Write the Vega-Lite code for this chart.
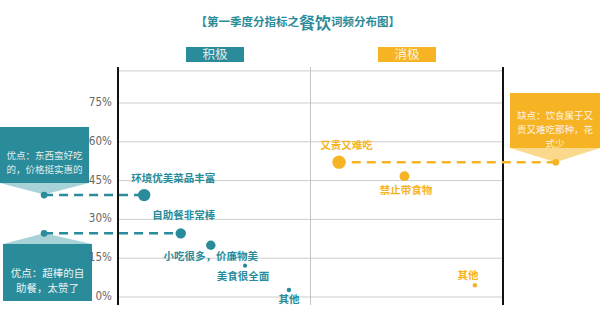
{
  "$schema": "https://vega.github.io/schema/vega-lite/v6.json",
  "width": 600,
  "height": 322,
  "autosize": {"type": "fit", "contains": "padding"},
  "padding": 0,
  "background": "white",
  "config": {
    "view": {"stroke": null},
    "text": {"font": "Noto Sans CJK SC"}
  },
  "datasets": {
    "words": [
      {"name": "环境优美菜品丰富", "sentiment": "积极", "pos": 6.8, "share": 39.4, "freq": 77},
      {"name": "自助餐非常棒", "sentiment": "积极", "pos": 16.3, "share": 24.6, "freq": 54},
      {"name": "小吃很多，价廉物美", "sentiment": "积极", "pos": 24.1, "share": 20.0, "freq": 45},
      {"name": "美食很全面", "sentiment": "积极", "pos": 33.0, "share": 12.1, "freq": 9},
      {"name": "其他", "sentiment": "积极", "pos": 44.4, "share": 2.7, "freq": 10},
      {"name": "又贵又难吃", "sentiment": "消极", "pos": 57.4, "share": 52.1, "freq": 88},
      {"name": "禁止带食物", "sentiment": "消极", "pos": 74.4, "share": 46.7, "freq": 48},
      {"name": "其他", "sentiment": "消极", "pos": 92.7, "share": 4.5, "freq": 10}
    ],
    "ticks": [
      {"v": 0, "label": "0%"},
      {"v": 15, "label": "15%"},
      {"v": 30, "label": "30%"},
      {"v": 45, "label": "45%"},
      {"v": 60, "label": "60%"},
      {"v": 75, "label": "75%"}
    ],
    "callouts": [
      {"id": "c1", "sentiment": "积极", "left": -30.65, "right": -7.53, "top": 65.72, "bottom": 44.07, "tx": -19.1, "ty": 54.6, "tipX": -19.2, "tipY": 39.4, "toX": 6.8, "text": ["优点：东西蛮好吃", "的，价格挺实惠的"]},
      {"id": "c2", "sentiment": "积极", "left": -29.87, "right": -6.75, "top": 20.49, "bottom": -1.55, "tx": -18.3, "ty": 9.0, "tipX": -19.2, "tipY": 24.6, "toX": 16.3, "text": ["优点：超棒的自", "助餐，太赞了"]},
      {"id": "c3", "sentiment": "消极", "left": 101.82, "right": 125.19, "top": 78.87, "bottom": 57.6, "tx": 113.5, "ty": 70.0, "tipX": 113.7, "tipY": 52.1, "toX": 57.4, "text": ["缺点：饮食属于又", "贵又难吃那种，花", "式少"]}
    ],
    "pointers": [
      {"c": "c1", "sentiment": "积极", "x": -30.65, "y": 44.07, "y2": 44.07},
      {"c": "c1", "sentiment": "积极", "x": -19.2, "y": 39.6, "y2": 44.07},
      {"c": "c1", "sentiment": "积极", "x": -7.53, "y": 44.07, "y2": 44.07},
      {"c": "c2", "sentiment": "积极", "x": -29.87, "y": 20.49, "y2": 20.49},
      {"c": "c2", "sentiment": "积极", "x": -19.2, "y": 24.6, "y2": 20.49},
      {"c": "c2", "sentiment": "积极", "x": -6.75, "y": 20.49, "y2": 20.49},
      {"c": "c3", "sentiment": "消极", "x": 101.82, "y": 57.6, "y2": 57.6},
      {"c": "c3", "sentiment": "消极", "x": 113.7, "y": 52.1, "y2": 57.6},
      {"c": "c3", "sentiment": "消极", "x": 125.19, "y": 57.6, "y2": 57.6}
    ],
    "headers": [
      {"sentiment": "积极", "x": 17.66, "x2": 32.73, "y": 96.65, "y2": 90.85, "cx": 25.19},
      {"sentiment": "消极", "x": 67.53, "x2": 82.6, "y": 96.65, "y2": 90.85, "cx": 75.06}
    ],
    "grid": [{"v": 0}, {"v": 15}, {"v": 30}, {"v": 45}, {"v": 60}, {"v": 75}, {"v": 87.4}],
    "frame": [{"v": 0}, {"v": 100}]
  },
  "layer": [
    {
      "data": {"name": "grid"},
      "mark": {"type": "rule", "color": "#cdcdcd", "strokeWidth": 1},
      "encoding": {
        "x": {"datum": 0, "type": "quantitative", "scale": {"domain": [-30.65, 125.19], "nice": false, "zero": false}, "axis": null},
        "x2": {"datum": 100},
        "y": {"field": "v", "type": "quantitative", "scale": {"domain": [-9.665, 114.82], "nice": false, "zero": false}, "axis": null}
      }
    },
    {
      "data": {"values": [{"v": 50}]},
      "mark": {"type": "rule", "color": "#c4c4c4", "strokeWidth": 1},
      "encoding": {
        "x": {"field": "v", "type": "quantitative", "axis": null},
        "y": {"datum": -3.1, "type": "quantitative", "axis": null},
        "y2": {"datum": 88.9}
      }
    },
    {
      "data": {"name": "frame"},
      "mark": {"type": "rule", "color": "#111111", "strokeWidth": 2},
      "encoding": {
        "x": {"field": "v", "type": "quantitative", "axis": null},
        "y": {"datum": -3.1, "type": "quantitative", "axis": null},
        "y2": {"datum": 88.9}
      }
    },
    {
      "data": {"values": [{"t": "【第一季度分指标之"}]},
      "mark": {"type": "text", "align": "right", "baseline": "middle", "fontSize": 11.5, "fontWeight": "bold", "color": "#2a8c9a"},
      "encoding": {
        "x": {"datum": 47.0, "type": "quantitative", "axis": null},
        "y": {"datum": 105.9, "type": "quantitative", "axis": null},
        "text": {"field": "t"}
      }
    },
    {
      "data": {"values": [{"t": "餐饮"}]},
      "mark": {"type": "text", "align": "center", "baseline": "middle", "fontSize": 16, "fontWeight": "bold", "color": "#2a8c9a"},
      "encoding": {
        "x": {"datum": 51.17, "type": "quantitative", "axis": null},
        "y": {"datum": 105.6, "type": "quantitative", "axis": null},
        "text": {"field": "t"}
      }
    },
    {
      "data": {"values": [{"t": "词频分布图】"}]},
      "mark": {"type": "text", "align": "left", "baseline": "middle", "fontSize": 11.5, "fontWeight": "bold", "color": "#2a8c9a"},
      "encoding": {
        "x": {"datum": 55.32, "type": "quantitative", "axis": null},
        "y": {"datum": 105.9, "type": "quantitative", "axis": null},
        "text": {"field": "t"}
      }
    },
    {
      "data": {"name": "headers"},
      "mark": {"type": "rect"},
      "encoding": {
        "x": {"field": "x", "type": "quantitative", "axis": null},
        "x2": {"field": "x2"},
        "y": {"field": "y", "type": "quantitative", "axis": null},
        "y2": {"field": "y2"},
        "color": {"field": "sentiment", "type": "nominal", "scale": {"domain": ["积极", "消极"], "range": ["#2a8c9a", "#f6b324"]}, "legend": null}
      }
    },
    {
      "data": {"name": "headers"},
      "mark": {"type": "text", "align": "center", "baseline": "middle", "fontSize": 12.5, "color": "#ffffff", "opacity": 0.85},
      "encoding": {
        "x": {"field": "cx", "type": "quantitative", "axis": null},
        "y": {"datum": 93.75, "type": "quantitative", "axis": null},
        "text": {"field": "sentiment"}
      }
    },
    {
      "data": {"name": "callouts"},
      "mark": {"type": "rect"},
      "encoding": {
        "x": {"field": "left", "type": "quantitative", "axis": null},
        "x2": {"field": "right"},
        "y": {"field": "top", "type": "quantitative", "axis": null},
        "y2": {"field": "bottom"},
        "color": {"field": "sentiment", "type": "nominal", "legend": null}
      }
    },
    {
      "data": {"name": "ticks"},
      "mark": {"type": "text", "align": "right", "baseline": "middle", "font": "DejaVu Sans Condensed, Liberation Sans Narrow, sans-serif", "fontSize": 11.5, "color": "#666666"},
      "encoding": {
        "x": {"datum": -1.6, "type": "quantitative", "axis": null},
        "y": {"field": "v", "type": "quantitative", "axis": null},
        "text": {"field": "label"}
      }
    },
    {
      "data": {"name": "pointers"},
      "transform": [{"filter": "datum.sentiment === '积极'"}],
      "mark": {"type": "area", "color": "#a6d2d8"},
      "encoding": {
        "x": {"field": "x", "type": "quantitative", "axis": null},
        "y": {"field": "y", "type": "quantitative", "axis": null},
        "y2": {"field": "y2"},
        "detail": {"field": "c"}
      }
    },
    {
      "data": {"name": "pointers"},
      "transform": [{"filter": "datum.sentiment === '消极'"}],
      "mark": {"type": "area", "color": "#fbd98c"},
      "encoding": {
        "x": {"field": "x", "type": "quantitative", "axis": null},
        "y": {"field": "y", "type": "quantitative", "axis": null},
        "y2": {"field": "y2"},
        "detail": {"field": "c"}
      }
    },
    {
      "data": {"name": "callouts"},
      "transform": [{"filter": "datum.id !== 'c2'"}],
      "mark": {"type": "text", "align": "center", "baseline": "middle", "fontSize": 9.5, "lineHeight": 14, "color": "#ffffff", "opacity": 0.85},
      "encoding": {
        "x": {"field": "tx", "type": "quantitative", "axis": null},
        "y": {"field": "ty", "type": "quantitative", "axis": null},
        "text": {"field": "text"}
      }
    },
    {
      "data": {"name": "callouts"},
      "transform": [{"filter": "datum.id === 'c2'"}],
      "mark": {"type": "text", "align": "center", "baseline": "middle", "fontSize": 10.5, "lineHeight": 15.3, "color": "#ffffff", "opacity": 0.9},
      "encoding": {
        "x": {"field": "tx", "type": "quantitative", "axis": null},
        "y": {"field": "ty", "type": "quantitative", "axis": null},
        "text": {"field": "text"}
      }
    },
    {
      "data": {"name": "callouts"},
      "mark": {"type": "rule", "strokeWidth": 2.5, "strokeDash": [9, 6]},
      "encoding": {
        "x": {"field": "tipX", "type": "quantitative", "axis": null},
        "x2": {"field": "toX"},
        "y": {"field": "tipY", "type": "quantitative", "axis": null},
        "color": {"field": "sentiment", "type": "nominal", "legend": null}
      }
    },
    {
      "data": {"name": "callouts"},
      "mark": {"type": "point", "filled": true, "opacity": 1, "size": 45},
      "encoding": {
        "x": {"field": "tipX", "type": "quantitative", "axis": null},
        "y": {"field": "tipY", "type": "quantitative", "axis": null},
        "color": {"field": "sentiment", "type": "nominal", "legend": null}
      }
    },
    {
      "data": {"name": "words"},
      "mark": {"type": "circle", "opacity": 1},
      "encoding": {
        "x": {"field": "pos", "type": "quantitative", "axis": null},
        "y": {"field": "share", "type": "quantitative", "axis": null},
        "size": {"field": "freq", "type": "quantitative", "scale": {"type": "linear", "domain": [0, 100], "range": [0, 200]}, "legend": null},
        "color": {"field": "sentiment", "type": "nominal", "legend": null}
      }
    },
    {
      "data": {"name": "words"},
      "encoding": {
        "x": {"field": "pos", "type": "quantitative", "axis": null},
        "y": {"field": "share", "type": "quantitative", "axis": null},
        "text": {"field": "name"},
        "color": {"field": "sentiment", "type": "nominal", "legend": null}
      },
      "layer": [
        {"transform": [{"filter": "datum.name === '环境优美菜品丰富'"}], "mark": {"type": "text", "fontSize": 10.5, "fontWeight": "bold", "baseline": "middle", "dx": 29, "dy": -16}},
        {"transform": [{"filter": "datum.name === '自助餐非常棒'"}], "mark": {"type": "text", "fontSize": 10.5, "fontWeight": "bold", "baseline": "middle", "dx": 3, "dy": -17}},
        {"transform": [{"filter": "datum.name === '小吃很多，价廉物美'"}], "mark": {"type": "text", "fontSize": 10.5, "fontWeight": "bold", "baseline": "middle", "dx": 0, "dy": 12}},
        {"transform": [{"filter": "datum.name === '美食很全面'"}], "mark": {"type": "text", "fontSize": 10.5, "fontWeight": "bold", "baseline": "middle", "dx": -2, "dy": 11}},
        {"transform": [{"filter": "datum.name === '其他' && datum.sentiment === '积极'"}], "mark": {"type": "text", "fontSize": 10.5, "fontWeight": "bold", "baseline": "middle", "dx": 0, "dy": 10}},
        {"transform": [{"filter": "datum.name === '又贵又难吃'"}], "mark": {"type": "text", "fontSize": 10.5, "fontWeight": "bold", "baseline": "middle", "dx": 7.5, "dy": -16}},
        {"transform": [{"filter": "datum.name === '禁止带食物'"}], "mark": {"type": "text", "fontSize": 10.5, "fontWeight": "bold", "baseline": "middle", "dx": 1.5, "dy": 15}},
        {"transform": [{"filter": "datum.name === '其他' && datum.sentiment === '消极'"}], "mark": {"type": "text", "fontSize": 10.5, "fontWeight": "bold", "baseline": "middle", "dx": -7, "dy": -9}}
      ]
    }
  ]
}
